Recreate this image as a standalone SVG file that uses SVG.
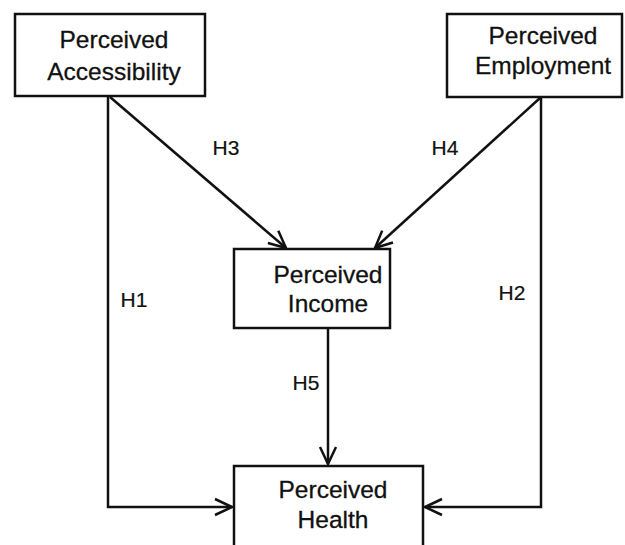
<svg xmlns="http://www.w3.org/2000/svg" width="625" height="545" viewBox="0 0 625 545">
<style>
.box{fill:#fff;stroke:#111;stroke-width:2.5}
.t{font-family:"Liberation Sans",Arial,sans-serif;font-size:24.5px;fill:#111;text-anchor:middle;stroke:#111;stroke-width:0.3}
.lbl{font-family:"Liberation Sans",Arial,sans-serif;font-size:21px;fill:#111;text-anchor:middle;stroke:#111;stroke-width:0.2}
.c{fill:none;stroke:#111;stroke-width:2.5}
</style>
<defs>
<marker id="arr" viewBox="0 0 22 22" refX="20" refY="11" markerWidth="22" markerHeight="22" markerUnits="userSpaceOnUse" orient="auto">
<path d="M3,3 L20,11 L3,19" fill="none" stroke="#111" stroke-width="2.5"/>
</marker>
</defs>
<rect width="625" height="545" fill="#fff"/>
<g id="connectors">
<path class="c" d="M108,96 L108,507 L232,507" marker-end="url(#arr)"/>
<path class="c" d="M541,97 L541,507 L425,507" marker-end="url(#arr)"/>
<path class="c" d="M110,97 L286,248" marker-end="url(#arr)"/>
<path class="c" d="M540,98 L375,248" marker-end="url(#arr)"/>
<path class="c" d="M328,328 L328,464" marker-end="url(#arr)"/>
<text class="lbl" x="226" y="155">H3</text>
<text class="lbl" x="445" y="155">H4</text>
<text class="lbl" x="134" y="307">H1</text>
<text class="lbl" x="512" y="300">H2</text>
<text class="lbl" x="306" y="390">H5</text>
</g>
<g id="accessibility">
<rect class="box" x="15" y="14" width="190" height="82"/>
<text class="t" x="114" y="48">Perceived</text>
<text class="t" x="114" y="80">Accessibility</text>
</g>
<g id="employment">
<rect class="box" x="447" y="14" width="175" height="83"/>
<text class="t" x="543" y="44">Perceived</text>
<text class="t" x="543" y="74">Employment</text>
</g>
<g id="income">
<rect class="box" x="234" y="249" width="156" height="79"/>
<text class="t" x="328" y="283">Perceived</text>
<text class="t" x="328" y="312">Income</text>
</g>
<g id="health">
<rect class="box" x="234" y="466" width="189" height="90"/>
<text class="t" x="333" y="498">Perceived</text>
<text class="t" x="333" y="528">Health</text>
</g>
</svg>
